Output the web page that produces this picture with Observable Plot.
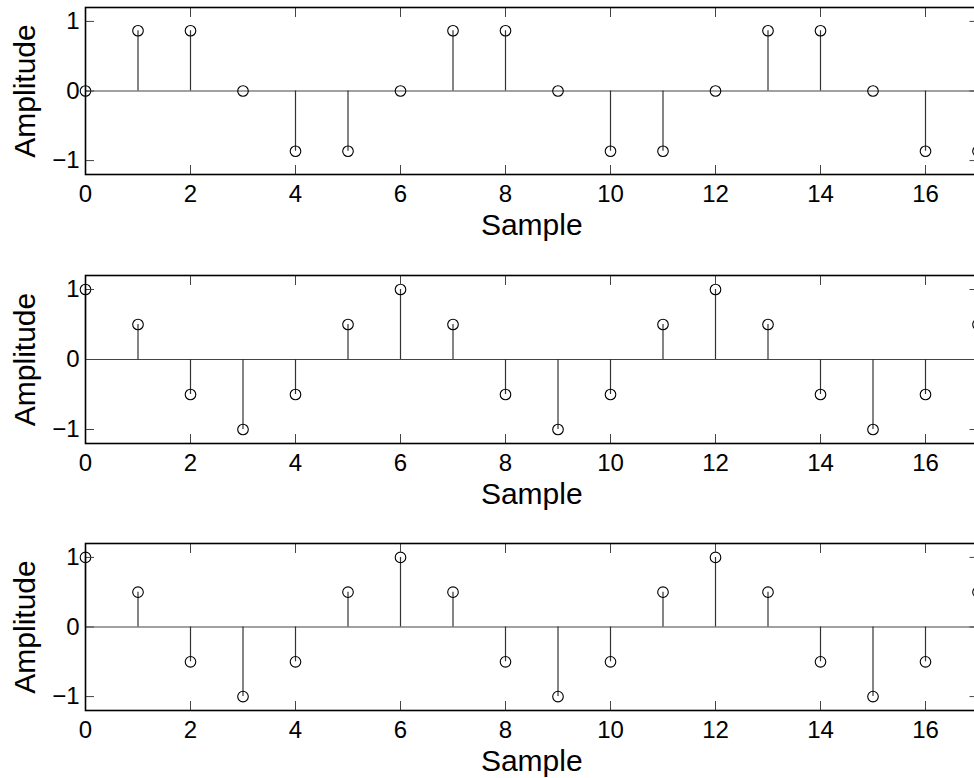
<!DOCTYPE html>
<html>
<head>
<meta charset="utf-8">
<script src="https://cdn.jsdelivr.net/npm/d3@7"></script>
<script src="https://cdn.jsdelivr.net/npm/@observablehq/plot@0.6"></script>
<style>
  html, body { margin: 0; padding: 0; background: #fff; }
  #chart { width: 974px; height: 778px; overflow: hidden; }
  #chart svg { display: block; }
</style>
</head>
<body>
<div id="chart"></div>
<script>
// Sample indices
const samples = [0, 1, 2, 3, 4, 5, 6, 7, 8, 9, 10, 11, 12, 13, 14, 15, 16, 17];
// Panel 1 amplitudes
const panel1Values = [0, 0.866, 0.866, 0, -0.866, -0.866, 0, 0.866, 0.866, 0, -0.866, -0.866, 0, 0.866, 0.866, 0, -0.866, -0.866];
// Panel 2 amplitudes
const panel2Values = [1, 0.5, -0.5, -1, -0.5, 0.5, 1, 0.5, -0.5, -1, -0.5, 0.5, 1, 0.5, -0.5, -1, -0.5, 0.5];
// Panel 3 amplitudes
const panel3Values = [1, 0.5, -0.5, -1, -0.5, 0.5, 1, 0.5, -0.5, -1, -0.5, 0.5, 1, 0.5, -0.5, -1, -0.5, 0.5];
// Axis ticks and limits
const xTicks = [0, 2, 4, 6, 8, 10, 12, 14, 16];
const yTicks = [-1, 0, 1];
const xDomain = [0, 17];
const yDomain = [-1.2, 1.2];
const xLabel = "Sample";
const yLabel = "Amplitude";

const FONT = "'Liberation Sans', Arial, Helvetica, sans-serif";

function panel(values, height, marginBottom) {
  const data = samples.map((n, i) => ({n, v: values[i]}));
  return Plot.plot({
    width: 974,
    height,
    marginTop: 7,
    marginBottom,
    marginLeft: 85,
    marginRight: -3.5,
    style: {fontFamily: FONT, fontSize: "24px", color: "#000", background: "#fff", overflow: "hidden"},
    x: {domain: xDomain, ticks: xTicks, axis: null},
    y: {domain: yDomain, ticks: yTicks, axis: null},
    marks: [
      Plot.ruleY([0], {stroke: "#444", strokeWidth: 1.2}),
      Plot.ruleX(data, {x: "n", y1: 0, y2: "v", stroke: "#333", strokeWidth: 1.2}),
      Plot.dot(data, {x: "n", y: "v", r: 5.3, stroke: "#000", fill: "none", strokeWidth: 1.1}),
      Plot.axisX(xTicks, {anchor: "bottom", tickSize: -9, text: null, label: null, stroke: "#444"}),
      Plot.axisX(xTicks, {anchor: "top", tickSize: -9, text: null, label: null, stroke: "#444"}),
      Plot.axisY(yTicks, {anchor: "left", tickSize: -9, text: null, label: null, stroke: "#444"}),
      Plot.axisY(yTicks, {anchor: "right", tickSize: -9, text: null, label: null, stroke: "#444"}),
      Plot.axisX(xTicks, {anchor: "bottom", tickSize: 0, tickPadding: 10, label: null, fontSize: 24}),
      Plot.axisY(yTicks, {anchor: "left", tickSize: 0, tickPadding: 6, label: null, fontSize: 24,
        tickFormat: d => d < 0 ? "\u2212" + Math.abs(d) : String(d)}),
      Plot.frame({stroke: "#000", strokeWidth: 1.6}),
      Plot.text([xLabel], {frameAnchor: "bottom", dy: 51, fontSize: 30, lineAnchor: "middle", textAnchor: "middle", text: d => d}),
      Plot.text([yLabel], {frameAnchor: "left", dx: -60, rotate: -90, fontSize: 30, lineAnchor: "middle", textAnchor: "middle", text: d => d})
    ]
  });
}

const chart = document.getElementById("chart");
chart.appendChild(panel(panel1Values, 268, 94));
chart.appendChild(panel(panel2Values, 268, 93));
chart.appendChild(panel(panel3Values, 242, 68));
</script>
</body>
</html>
